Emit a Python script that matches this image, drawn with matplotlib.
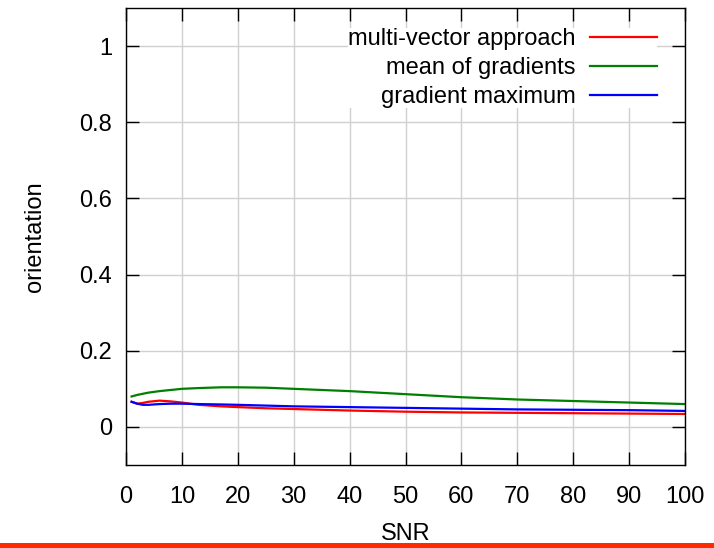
import matplotlib
matplotlib.use('Agg')
import matplotlib.pyplot as plt
from matplotlib.patches import Rectangle

plt.rcParams['font.family'] = ['Liberation Sans', 'DejaVu Sans']

# SNR sample points and mean orientation error per method
snr = [1, 2, 3, 4, 6, 8, 10, 13, 17, 20, 25, 30, 35, 40, 50, 60, 70, 80, 90, 100]
multi_vector = [0.066, 0.061, 0.063, 0.066, 0.069, 0.067, 0.064, 0.058, 0.054, 0.052,
                0.049, 0.047, 0.045, 0.043, 0.040, 0.038, 0.037, 0.036, 0.035, 0.034]
mean_grad = [0.080, 0.084, 0.087, 0.090, 0.094, 0.097, 0.100, 0.102, 0.104, 0.104,
             0.103, 0.100, 0.097, 0.094, 0.086, 0.078, 0.072, 0.068, 0.064, 0.060]
grad_max = [0.066, 0.061, 0.058, 0.058, 0.060, 0.061, 0.061, 0.060, 0.059, 0.058,
            0.056, 0.054, 0.053, 0.052, 0.050, 0.048, 0.046, 0.045, 0.044, 0.042]

xticks = list(range(0, 101, 10))
yticks = [0, 0.2, 0.4, 0.6, 0.8, 1]

fig = plt.figure(figsize=(7.14, 5.48), dpi=100)
ax = fig.add_axes([126 / 714, 1 - 465 / 548, (685 - 126) / 714, (465 - 8) / 548])

ax.plot(snr, multi_vector, color='#ff0000', lw=1.6, label='multi-vector approach')
ax.plot(snr, mean_grad, color='#008000', lw=1.6, label='mean of gradients')
ax.plot(snr, grad_max, color='#0000ff', lw=1.6, label='gradient maximum')

ax.set_xlim(0, 100)
ax.set_ylim(-0.1, 1.1)
ax.set_xticks(xticks)
ax.set_yticks(yticks)
ax.set_yticklabels(['0', '0.2', '0.4', '0.6', '0.8', '1'])
ax.grid(True, color='#d0d0d0', lw=1)
ax.set_axisbelow(True)
ax.tick_params(direction='in', length=9.5, width=1, top=True, right=True,
               labelsize=17, pad=10)
ax.tick_params(axis='x', pad=15)
for s in ax.spines.values():
    s.set_linewidth(1)

ax.set_xlabel('SNR', fontsize=17, labelpad=11)
ax.set_ylabel('orientation', fontsize=17, labelpad=24)

leg = ax.legend(loc='upper right', bbox_to_anchor=(0.95, 0.956), markerfirst=False,
                frameon=True, fancybox=False, fontsize=17, handlelength=2.85,
                labelspacing=0.3, borderpad=0.0, borderaxespad=0.0,
                handletextpad=0.6, alignment='right')
leg.get_frame().set_facecolor('white')
leg.get_frame().set_edgecolor('none')
leg.get_frame().set_alpha(1)
for t in leg.get_texts():
    t.set_ha('right')

fig.patches.append(Rectangle((0, 0), 1, 5.5 / 548, transform=fig.transFigure,
                             facecolor='#ff2a00', edgecolor='none', zorder=10))

fig.savefig('out.png', dpi=100)
